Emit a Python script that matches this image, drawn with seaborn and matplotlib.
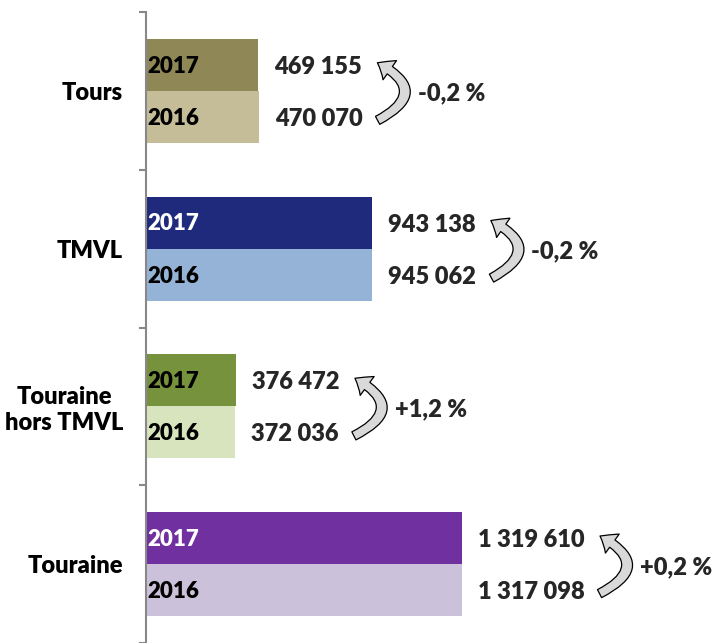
import matplotlib
matplotlib.use('Agg')
import numpy as np
import pandas as pd
import seaborn as sns
import matplotlib.pyplot as plt
from matplotlib.text import OffsetFrom

# Donnees : population municipale 2016 / 2017
zones = ['Tours', 'TMVL', 'Touraine\nhors TMVL', 'Touraine']
annees = ['2017', '2016']
pop_2017 = [469155, 943138, 376472, 1319610]
pop_2016 = [470070, 945062, 372036, 1317098]
evolutions = ['-0,2 %', '-0,2 %', '+1,2 %', '+0,2 %']

couleurs_2017 = ['#8F8755', '#1F2A7D', '#77923C', '#7030A0']
couleurs_2016 = ['#C4BD97', '#95B3D7', '#D7E4BD', '#CCC1DA']
texte_2017 = ['black', 'white', 'black', 'white']


def fmt(v):
    return f"{v:,}".replace(',', ' ')


df = pd.DataFrame({
    'zone': zones * 2,
    'annee': ['2017'] * 4 + ['2016'] * 4,
    'population': pop_2017 + pop_2016,
})

sns.set_theme(style='white')
plt.rcParams['font.family'] = ['Lato', 'DejaVu Sans']
plt.rcParams['font.weight'] = 'heavy'

fig = plt.figure(figsize=(7.2, 6.43), dpi=100)
ax = fig.add_axes([146 / 720, 0, 1 - 146 / 720, 1 - 12 / 643])

sns.barplot(data=df, x='population', y='zone', hue='annee', hue_order=annees,
            orient='h', width=0.66, linewidth=0, legend=False, ax=ax)

barres_2017 = ax.containers[0]
barres_2016 = ax.containers[1]

fs = 17
poids = 'heavy'
for i in range(len(zones)):
    b17 = barres_2017[i]
    b16 = barres_2016[i]
    b17.set_facecolor(couleurs_2017[i])
    b16.set_facecolor(couleurs_2016[i])
    y17 = b17.get_y() + b17.get_height() / 2
    y16 = b16.get_y() + b16.get_height() / 2

    # annees dans les barres
    ax.annotate('2017', xy=(0, y17), xytext=(1, -1), textcoords='offset points',
                ha='left', va='center', fontsize=fs - 1, fontweight=poids,
                color=texte_2017[i])
    ax.annotate('2016', xy=(0, y16), xytext=(1, -1), textcoords='offset points',
                ha='left', va='center', fontsize=fs - 1, fontweight=poids,
                color='black')

    # valeurs
    t17 = ax.annotate(fmt(pop_2017[i]), xy=(b17.get_width(), y17), xytext=(11.5, -1.5),
                      textcoords='offset points', ha='left', va='center',
                      fontsize=fs, fontweight=poids)
    t16 = ax.annotate(fmt(pop_2016[i]), xy=(b16.get_width(), y16), xytext=(11.5, -1.5),
                      textcoords='offset points', ha='left', va='center',
                      fontsize=fs, fontweight=poids)

    # fleche courbe 2016 -> 2017
    ax.annotate('', xy=(11, 3), xycoords=OffsetFrom(t17, (1, 0.5)),
                xytext=(11, -1), textcoords=OffsetFrom(t16, (1, 0.5)),
                arrowprops=dict(arrowstyle='simple,head_length=0.8,head_width=1.3,tail_width=0.5',
                                connectionstyle='arc3,rad=0.95', fc='#D9D9D9', ec='black',
                                lw=0.9, mutation_scale=13, shrinkA=0, shrinkB=0))

    # evolution
    ax.annotate(evolutions[i], xy=(40, (y17 + y16) / 2),
                xycoords=(OffsetFrom(t17, (1, 0.5)), 'data'),
                xytext=(0, -2), textcoords='offset points',
                ha='left', va='center', fontsize=fs, fontweight=poids)

ax.set_xlim(0, 2.396e6)
ax.set_ylim(3.49, -0.5)
ax.set_xlabel('')
ax.set_ylabel('')
ax.set_xticks([])

for s in ['top', 'right', 'bottom']:
    ax.spines[s].set_visible(False)
ax.spines['left'].set_color('#888888')
ax.spines['left'].set_linewidth(1.5)

ax.set_yticks(np.arange(len(zones)))
ax.set_yticklabels(zones, fontsize=fs, fontweight=poids, multialignment='center')
ax.set_yticks(np.arange(len(zones) + 1) - 0.5, minor=True)
ax.tick_params(axis='y', which='major', length=0, pad=16.5, colors='black')
ax.tick_params(axis='y', which='minor', length=5, width=1.5, color='#888888',
               direction='out', left=True)

fig.savefig('out.png', dpi=100)
